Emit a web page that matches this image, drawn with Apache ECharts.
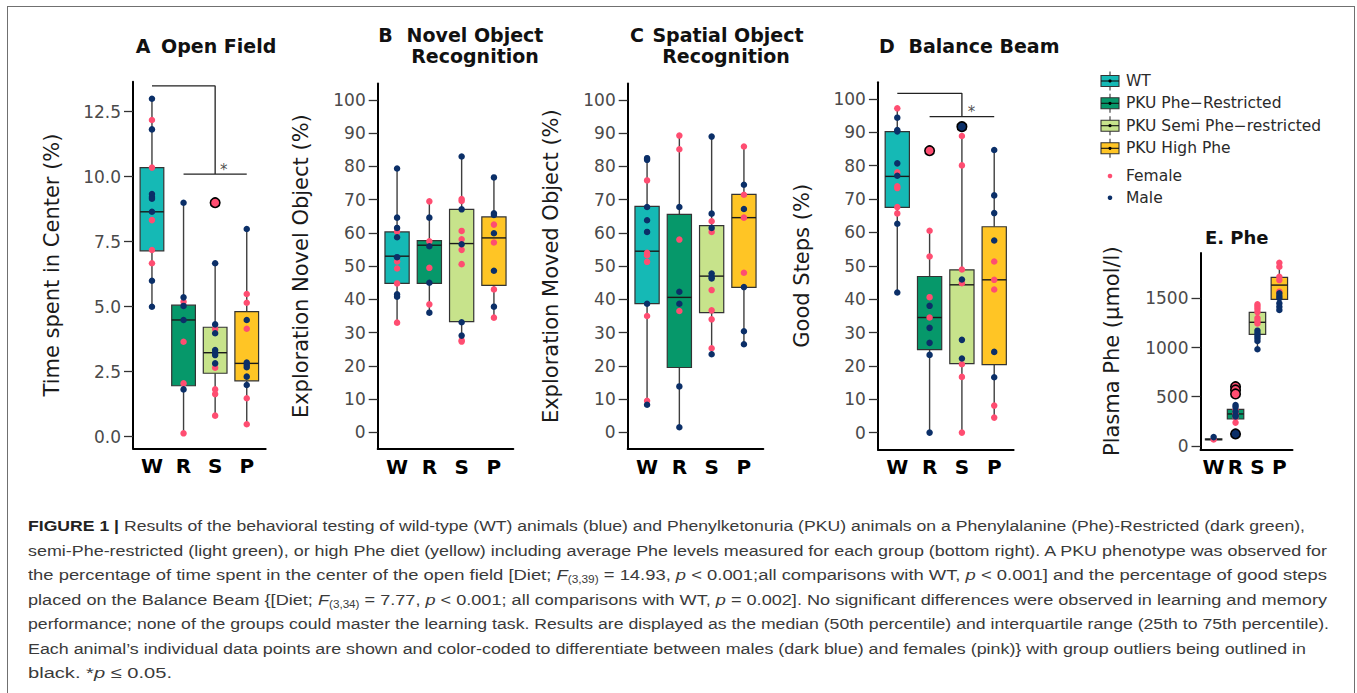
<!DOCTYPE html>
<html>
<head>
<meta charset="utf-8">
<script src="https://cdn.jsdelivr.net/npm/echarts@6/dist/echarts.min.js"></script>
<style>
html,body{margin:0;padding:0;background:#fff;width:1357px;height:693px;overflow:hidden;}
#frame{position:absolute;left:7px;top:6px;width:1348px;height:740px;border:1px solid #707070;box-sizing:border-box;}
#chart{position:absolute;left:0;top:0;width:1357px;height:500px;}
#caption{position:absolute;left:28px;top:514px;font-family:"Liberation Sans","Arimo",Arial,sans-serif;font-size:15.5px;line-height:24.5px;color:#3a3a3a;white-space:nowrap;}
#caption div{height:24.5px;}
#caption .ln{white-space:nowrap;display:inline-block;transform-origin:0 50%;}
#caption b{font-weight:bold;color:#222;}
#caption sub{font-size:10px;vertical-align:-3px;line-height:0;}
</style>
</head>
<body>
<div id="frame"></div>
<div id="chart"></div>
<div id="caption">
<div><span class="ln"><b>FIGURE 1 |</b> Results of the behavioral testing of wild-type (WT) animals (blue) and Phenylketonuria (PKU) animals on a Phenylalanine (Phe)-Restricted (dark green),</span></div>
<div><span class="ln">semi-Phe-restricted (light green), or high Phe diet (yellow) including average Phe levels measured for each group (bottom right). A PKU phenotype was observed for</span></div>
<div><span class="ln">the percentage of time spent in the center of the open field [Diet; <i>F</i><sub>(3,39)</sub> = 14.93, <i>p</i> &lt; 0.001;all comparisons with WT, <i>p</i> &lt; 0.001] and the percentage of good steps</span></div>
<div><span class="ln">placed on the Balance Beam {[Diet; <i>F</i><sub>(3,34)</sub> = 7.77, <i>p</i> &lt; 0.001; all comparisons with WT, <i>p</i> = 0.002]. No significant differences were observed in learning and memory</span></div>
<div><span class="ln">performance; none of the groups could master the learning task. Results are displayed as the median (50th percentile) and interquartile range (25th to 75th percentile).</span></div>
<div><span class="ln">Each animal’s individual data points are shown and color-coded to differentiate between males (dark blue) and females (pink)} with group outliers being outlined in</span></div>
<div><span class="ln">black. *<i>p</i> ≤ 0.05.</span></div>
</div>
<script>
// ---------- DATA ----------
const groups = ['W', 'R', 'S', 'P'];
const groupNames = ['WT', 'PKU Phe\u2212Restricted', 'PKU Semi Phe\u2212restricted', 'PKU High Phe'];
const sexNames = ['Female', 'Male'];

// box stats per group: [lowWhisker, q1, median, q3, highWhisker]
const openFieldBox = [
  [5.0, 7.15, 8.65, 10.35, 13.0],
  [0.13, 1.96, 4.49, 5.06, 9.0],
  [0.81, 2.44, 3.23, 4.21, 6.67],
  [0.48, 2.15, 2.82, 4.81, 7.99]
];
const openFieldFemale = [
  [12.18, 10.35, 8.33, 7.18, 6.67],
  [5.19, 3.65, 2.05, 0.13],
  [4.14, 2.65, 1.82, 1.64, 0.81],
  [5.49, 5.15, 4.15, 1.48, 0.48]
];
const openFieldMale = [
  [13.0, 11.82, 9.33, 9.22, 9.15, 8.65, 6.0, 5.0],
  [9.0, 5.36, 5.03, 4.49, 1.82],
  [6.67, 4.32, 3.98, 3.33, 3.23, 3.14, 2.82],
  [7.99, 4.49, 2.85, 2.76, 2.67, 2.31, 1.99]
];
const openFieldOutlierFemale = [[], [], [9.0], []];
const openFieldOutlierMale = [[], [], [], []];
const openFieldSigTop = [[1, 13.49], [3, 13.49], [3, 10.1]];
const openFieldSigBottom = [[2, 10.1], [4, 10.1]];
const openFieldStar = [[3.27, 10.1]];

const novelBox = [
  [33.0, 44.8, 53.0, 60.3, 79.4],
  [36.0, 44.8, 56.3, 57.7, 69.5],
  [27.3, 33.3, 56.8, 67.1, 83.0],
  [34.5, 44.2, 58.5, 64.8, 76.7]
];
const novelFemale = [
  [60.4, 51.4, 49.3, 44.8, 33.0],
  [69.5, 57.5, 49.5, 38.5],
  [70.2, 69.6, 60.6, 58.1, 54.9, 50.6, 27.7, 27.3],
  [62.5, 57.1, 43.0, 34.5]
];
const novelMale = [
  [79.4, 64.6, 61.5, 58.7, 52.7, 41.5, 40.8],
  [64.6, 56.0, 45.0, 36.0],
  [83.0, 67.1, 56.6, 33.1, 29.1],
  [76.7, 65.9, 65.4, 59.9, 48.6, 37.8]
];

const spatialBox = [
  [8.3, 38.7, 54.5, 68.0, 82.5],
  [1.5, 19.5, 40.6, 65.6, 89.3],
  [23.5, 36.0, 47.0, 62.2, 89.0],
  [26.5, 43.6, 64.6, 71.6, 86.0]
];
const spatialFemale = [
  [75.8, 54.0, 53.3, 51.3, 35.0, 9.5],
  [89.3, 85.2, 58.0, 36.5],
  [63.5, 60.3, 42.8, 36.7, 34.0, 25.3],
  [86.0, 71.5, 64.6, 48.0]
];
const spatialMale = [
  [82.5, 82.0, 67.8, 63.8, 60.3, 38.7, 8.3],
  [67.8, 42.3, 38.7, 13.8, 1.5],
  [89.0, 65.8, 61.5, 47.8, 46.8, 46.3, 23.5],
  [74.5, 67.2, 43.7, 30.4, 26.5]
];

const balanceBox = [
  [42.0, 67.5, 76.8, 90.2, 97.2],
  [0.0, 24.9, 34.5, 46.8, 60.5],
  [0.0, 20.7, 44.3, 48.8, 88.9],
  [4.5, 20.4, 45.8, 61.7, 84.7]
];
const balanceFemale = [
  [97.2, 78.0, 73.8, 73.3, 67.6, 65.7],
  [60.5, 52.8, 40.6, 34.5],
  [88.9, 80.1, 48.9, 44.8, 20.5, 16.7, 0.0],
  [51.3, 45.8, 42.9, 8.1, 4.5]
];
const balanceMale = [
  [94.4, 90.7, 90.3, 80.7, 77.0, 62.6, 42.0],
  [38.0, 31.4, 26.9, 23.3, 0.0],
  [45.9, 27.8, 22.2],
  [84.7, 71.1, 65.8, 57.6, 24.2, 16.6]
];
const balanceOutlierFemale = [[], [84.5], [], []];
const balanceOutlierMale = [[], [], [91.7], []];
const balanceSigTop = [[1, 101.7], [3, 101.7], [3, 94.7]];
const balanceSigBottom = [[2, 94.7], [4, 94.7]];
const balanceStar = [[3.3, 94.7]];

const pheBox = [
  [58, 62, 66, 72, 90],
  [237, 274, 325, 372, 416],
  [982, 1134, 1256, 1357, 1438],
  [1381, 1489, 1634, 1712, 1861]
];
const pheFemale = [
  [66],
  [365, 330, 290, 237],
  [1438, 1415, 1390, 1360, 1300, 1270, 1245],
  [1861, 1820, 1719, 1685, 1567]
];
const pheMale = [
  [90],
  [416, 395, 350, 312, 300],
  [1171, 1145, 1120, 1095, 1066, 982],
  [1550, 1523, 1500, 1449, 1414, 1381]
];
const pheOutlierFemale = [[], [602, 569, 528], [], []];
const pheOutlierMale = [[], [122], [], []];

const openFieldTicks = [0, 2.5, 5, 7.5, 10, 12.5];
const percentTicks = [0, 10, 20, 30, 40, 50, 60, 70, 80, 90, 100];
const pheTicks = [0, 500, 1000, 1500];
const groupTicks = [1, 2, 3, 4];

// ---------- STYLE ----------
const FONT = '"DejaVu Sans", sans-serif';
const groupColors = ['#15B9B5', '#06986A', '#C7E38B', '#FFC525'];
const femaleColor = '#FF4D71';
const maleColor = '#0B2F68';

// ---------- PANELS ----------
const panels = [
  { grid: { left: 133, top: 81.7, width: 132.7, height: 366.6 }, min: -0.446, max: 13.654,
    box: openFieldBox, female: openFieldFemale, male: openFieldMale,
    outF: openFieldOutlierFemale, outM: openFieldOutlierMale, ticks: openFieldTicks,
    fmt: v => v.toFixed(1), name: 'Time spent in Center (%)', gap: 71,
    sig: [openFieldSigTop, openFieldSigBottom], star: openFieldStar },
  { grid: { left: 377.7, top: 83.4, width: 135.6, height: 365.5 }, min: -5, max: 105,
    box: novelBox, female: novelFemale, male: novelMale,
    outF: [[], [], [], []], outM: [[], [], [], []], ticks: percentTicks,
    fmt: v => String(v), name: 'Exploration Novel Object (%)', gap: 66 },
  { grid: { left: 627.7, top: 83.4, width: 135.6, height: 365.5 }, min: -5, max: 105,
    box: spatialBox, female: spatialFemale, male: spatialMale,
    outF: [[], [], [], []], outM: [[], [], [], []], ticks: percentTicks,
    fmt: v => String(v), name: 'Exploration Moved Object (%)', gap: 66 },
  { grid: { left: 877.9, top: 82.3, width: 135.7, height: 367 }, min: -5, max: 105,
    box: balanceBox, female: balanceFemale, male: balanceMale,
    outF: balanceOutlierFemale, outM: balanceOutlierMale, ticks: percentTicks,
    fmt: v => String(v), name: 'Good Steps (%)', gap: 65,
    sig: [balanceSigTop, balanceSigBottom], star: balanceStar },
  { grid: { left: 1200.5, top: 253, width: 92, height: 196.4 }, min: -35, max: 1960,
    box: pheBox, female: pheFemale, male: pheMale,
    outF: pheOutlierFemale, outM: pheOutlierMale, ticks: pheTicks,
    fmt: v => String(v), name: 'Plasma Phe (\u03BCmol/l)', gap: 78 }
];

function boxData(stats) { return stats.map((s, i) => [i + 1].concat(s)); }
function pointData(lists) {
  const out = [];
  lists.forEach((vals, i) => vals.forEach(v => out.push([i + 1, v])));
  return out;
}
function renderBox(params, api) {
  const x = api.value(0), lo = api.value(1), q1 = api.value(2), md = api.value(3), q3 = api.value(4), hi = api.value(5);
  const hw = 0.375;
  const a = api.coord([x - hw, q3]), b = api.coord([x + hw, q1]);
  const top = api.coord([x, hi]), bot = api.coord([x, lo]);
  const m1 = api.coord([x - hw, md]), m2 = api.coord([x + hw, md]);
  const c3 = api.coord([x, q3]), c1 = api.coord([x, q1]);
  const wl = { stroke: '#3f3f3f', lineWidth: 1.4 };
  return { type: 'group', children: [
    { type: 'line', shape: { x1: top[0], y1: top[1], x2: c3[0], y2: c3[1] }, style: wl },
    { type: 'line', shape: { x1: c1[0], y1: c1[1], x2: bot[0], y2: bot[1] }, style: wl },
    { type: 'rect', shape: { x: a[0], y: a[1], width: b[0] - a[0], height: Math.max(b[1] - a[1], 0.5) },
      style: { fill: groupColors[params.dataIndex], stroke: '#333', lineWidth: 1.2 } },
    { type: 'line', shape: { x1: m1[0], y1: m1[1], x2: m2[0], y2: m2[1] }, style: { stroke: '#1a1a1a', lineWidth: 1.4 } }
  ]};
}

const grids = [], xAxes = [], yAxes = [], series = [];
panels.forEach((p, k) => {
  grids.push(Object.assign({ outerBoundsMode: 'none', containLabel: false }, p.grid));
  xAxes.push({
    gridIndex: k, type: 'value', min: 0.4, max: 4.6,
    axisLine: { show: true, onZero: false, lineStyle: { color: '#000', width: 2 } },
    axisTick: { show: false },
    axisLabel: { customValues: groupTicks, formatter: v => groups[Math.round(v) - 1],
      fontFamily: FONT, fontWeight: 'bold', fontSize: 20, color: '#000', margin: 8 },
    splitLine: { show: false }
  });
  yAxes.push({
    gridIndex: k, type: 'value', min: p.min, max: p.max,
    name: p.name, nameLocation: 'middle', nameGap: p.gap, nameRotate: 90,
    nameTextStyle: { fontFamily: FONT, fontSize: 21, color: '#1a1a1a' },
    axisLine: { show: true, onZero: false, lineStyle: { color: '#000', width: 2 } },
    axisTick: { show: true, length: 9, customValues: p.ticks, lineStyle: { color: '#333', width: 1.3 } },
    axisLabel: { customValues: p.ticks, formatter: p.fmt, fontFamily: FONT, fontSize: 17, color: '#4a4a4a', margin: 12 },
    splitLine: { show: false }
  });
  series.push({ type: 'custom', xAxisIndex: k, yAxisIndex: k, data: boxData(p.box),
    renderItem: renderBox, encode: { x: 0, y: [1, 2, 3, 4, 5] }, z: 2, silent: true, clip: false });
  series.push({ type: 'scatter', xAxisIndex: k, yAxisIndex: k, data: pointData(p.female),
    symbol: 'circle', symbolSize: 6.5, itemStyle: { color: femaleColor, opacity: 1 }, z: 3, silent: true });
  series.push({ type: 'scatter', xAxisIndex: k, yAxisIndex: k, data: pointData(p.male),
    symbol: 'circle', symbolSize: 6.5, itemStyle: { color: maleColor, opacity: 1 }, z: 4, silent: true });
  series.push({ type: 'scatter', xAxisIndex: k, yAxisIndex: k, data: pointData(p.outF),
    symbol: 'circle', symbolSize: 9.5, itemStyle: { color: femaleColor, borderColor: '#000', borderWidth: 1.6, opacity: 1 }, z: 5, silent: true });
  series.push({ type: 'scatter', xAxisIndex: k, yAxisIndex: k, data: pointData(p.outM),
    symbol: 'circle', symbolSize: 9.5, itemStyle: { color: maleColor, borderColor: '#000', borderWidth: 1.6, opacity: 1 }, z: 5, silent: true });
  if (p.sig) {
    p.sig.forEach(seg => series.push({ type: 'line', xAxisIndex: k, yAxisIndex: k, data: seg,
      symbol: 'none', lineStyle: { color: '#222', width: 1.3 }, z: 6, silent: true, animation: false }));
    series.push({ type: 'scatter', xAxisIndex: k, yAxisIndex: k, data: p.star, symbolSize: 0,
      label: { show: true, formatter: '*', position: 'top', distance: -3, fontFamily: FONT, fontSize: 15, color: '#222' }, z: 6, silent: true });
  }
});

// ---------- titles & legend (graphic) ----------
function txt(text, x, y, size, bold) {
  return { type: 'text', silent: true, style: {
    text: text, x: x, y: y, fontFamily: FONT, fontSize: size, fontWeight: bold ? 'bold' : 'normal',
    fill: '#111', textAlign: 'center', textVerticalAlign: 'middle', align: 'center', verticalAlign: 'middle'
  }};
}
const graphic = [
  txt('A', 143, 46, 19, true), txt('Open Field', 218.7, 46, 19, true),
  txt('B', 385.5, 35, 19, true), txt('Novel Object', 475, 35, 19, true), txt('Recognition', 475, 56, 19, true),
  txt('C', 637, 35, 19, true), txt('Spatial Object', 728, 35, 19, true), txt('Recognition', 726, 56, 19, true),
  txt('D', 887, 46, 19, true), txt('Balance Beam', 984, 46, 19, true),
  txt('E. Phe', 1236.7, 237, 18, true)
];
const legendRows = [81, 103.3, 125.7, 148.3];
groupNames.forEach((nm, i) => {
  const c = legendRows[i];
  graphic.push({ type: 'line', silent: true, shape: { x1: 1110, y1: c - 9.5, x2: 1110, y2: c + 9.5 }, style: { stroke: '#333', lineWidth: 1.1 } });
  graphic.push({ type: 'rect', silent: true, shape: { x: 1101, y: c - 5.5, width: 18, height: 11 }, style: { fill: groupColors[i], stroke: '#333', lineWidth: 1.1 } });
  graphic.push({ type: 'line', silent: true, shape: { x1: 1101, y1: c, x2: 1119, y2: c }, style: { stroke: '#111', lineWidth: 1.1 } });
  graphic.push({ type: 'circle', silent: true, shape: { cx: 1110, cy: c, r: 1.6 }, style: { fill: '#000' } });
  graphic.push({ type: 'text', silent: true, style: { text: nm, x: 1126, y: c, fontFamily: FONT, fontSize: 15.5, fill: '#2a2a2a',
    textAlign: 'left', align: 'left', textVerticalAlign: 'middle', verticalAlign: 'middle' } });
});
const sexRows = [176, 197.7];
const sexColors = [femaleColor, maleColor];
sexNames.forEach((nm, i) => {
  const c = sexRows[i];
  graphic.push({ type: 'circle', silent: true, shape: { cx: 1110, cy: c, r: 2.3 }, style: { fill: sexColors[i] } });
  graphic.push({ type: 'text', silent: true, style: { text: nm, x: 1126, y: c, fontFamily: FONT, fontSize: 15.5, fill: '#2a2a2a',
    textAlign: 'left', align: 'left', textVerticalAlign: 'middle', verticalAlign: 'middle' } });
});

const chart = echarts.init(document.getElementById('chart'), null, { renderer: 'svg' });
chart.setOption({
  animation: false,
  backgroundColor: 'transparent',
  grid: grids, xAxis: xAxes, yAxis: yAxes, series: series, graphic: graphic
});

// ---------- caption fitting (per line, to the reference line lengths) ----------
const captionLineWidths = [1277, 1299, 1299, 1299, 1301, 1278, 144];
function fitCaption() {
  const spans = document.querySelectorAll('#caption .ln');
  spans.forEach((s, i) => {
    s.style.transform = 'none';
    const w = s.getBoundingClientRect().width;
    if (w > 0) s.style.transform = 'scaleX(' + (captionLineWidths[i] / w) + ')';
  });
}
fitCaption();
if (document.fonts && document.fonts.ready) document.fonts.ready.then(fitCaption);
</script>
</body>
</html>
